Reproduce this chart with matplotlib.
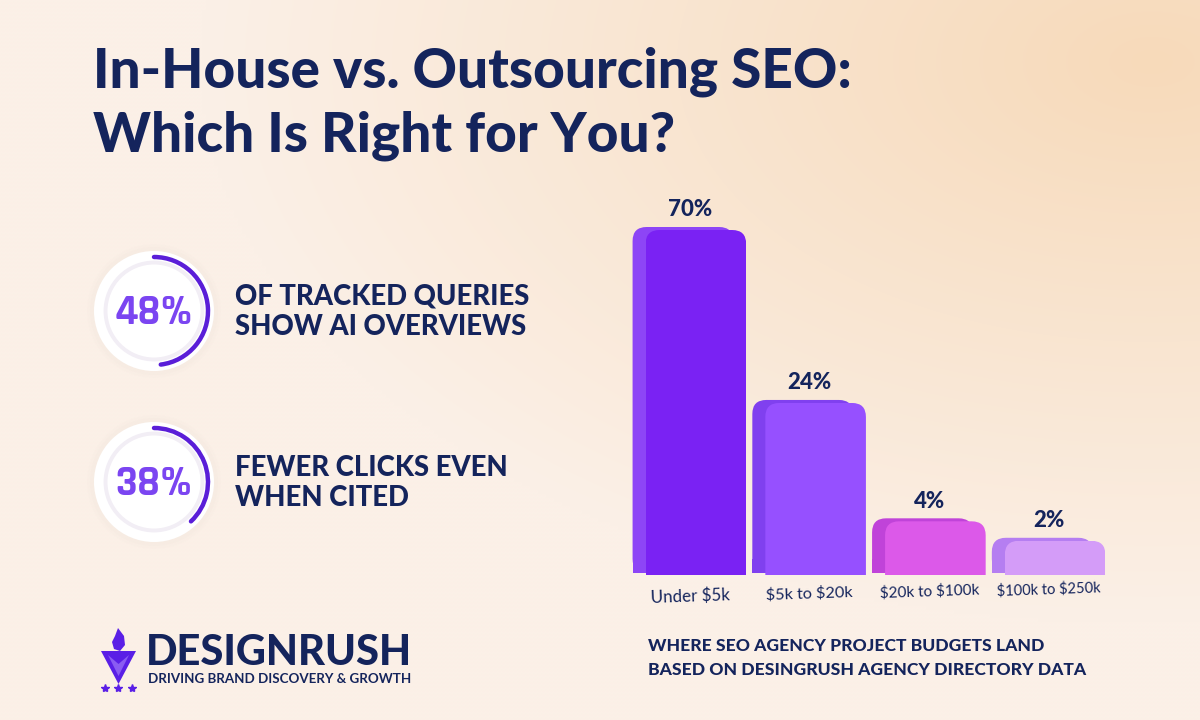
import numpy as np
import matplotlib
matplotlib.use("Agg")
import matplotlib.pyplot as plt
from matplotlib.patches import Circle, Arc, FancyBboxPatch, Polygon, Rectangle
from matplotlib.transforms import IdentityTransform, ScaledTranslation, blended_transform_factory

# ---------------- data ----------------
categories = ["Under $5k", "$5k to $20k", "$20k to $100k", "$100k to $250k"]
shares = [70, 24, 4, 2]
value_labels = ["70%", "24%", "4%", "2%"]
stat_values = ["48%", "38%"]
stat_fractions = [0.48, 0.38]
stat_texts = [["OF TRACKED QUERIES", "SHOW AI OVERVIEWS"],
              ["FEWER CLICKS EVEN", "WHEN CITED"]]
title_lines = ["In-House vs. Outsourcing SEO:", "Which Is Right for You?"]
caption_lines = ["WHERE SEO AGENCY PROJECT BUDGETS LAND",
                 "BASED ON DESINGRUSH AGENCY DIRECTORY DATA"]
brand = "DESIGNRUSH"
tagline = "DRIVING BRAND DISCOVERY & GROWTH"

# ---------------- styles ----------------
NAVY = "#14245c"
front_colors = ["#7a22f3", "#9650ff", "#dc59e9", "#d49cf8"]
side_colors = ["#8d45f6", "#8040ef", "#c043d9", "#b57ef1"]
label_sizes = [12.2, 11.7, 11.0, 10.5]

W, H = 1200, 720
fig = plt.figure(figsize=(12, 7.2), dpi=100)

# background gradient
bg = fig.add_axes([0, 0, 1, 1])
bg.set_xlim(0, W)
bg.set_ylim(H, 0)
bg.axis("off")
yy, xx = np.mgrid[0:H:4, 0:W:4]
base = np.array([251, 240, 231]) / 255.0
warm = np.array([247, 218, 186]) / 255.0
d = np.sqrt(((xx - 1150) / 950.0) ** 2 + ((yy - 60) / 560.0) ** 2)
t = np.clip(1 - d, 0, 1)
img = base[None, None, :] * (1 - t[..., None]) + warm[None, None, :] * t[..., None]
bg.imshow(img, extent=[0, W, H, 0], aspect="auto", zorder=0, interpolation="bilinear")

# title
for i, line in enumerate(title_lines):
    bg.text(93, 72 + i * 64, line, fontsize=39.5, fontweight=900, family="Lato",
            color=NAVY, va="center", ha="left", zorder=5)

# stat circles
centers = [(154, 311), (154, 482)]
for (cx, cy), val, frac, lines in zip(centers, stat_values, stat_fractions, stat_texts):
    for r, a in [(67, 0.05), (64, 0.08)]:
        bg.add_patch(Circle((cx, cy), r, facecolor="#e6d8d2", alpha=a, edgecolor="none", zorder=2))
    bg.add_patch(Circle((cx, cy), 60, facecolor="white", edgecolor="none", zorder=3))
    bg.add_patch(Circle((cx, cy), 48, facecolor="none", edgecolor="#f2eef5", lw=3.5, zorder=3))
    bg.add_patch(Circle((cx, cy), 46.5, facecolor="white", edgecolor="none", zorder=3))
    bg.add_patch(Arc((cx, cy), 108, 108, theta1=-90, theta2=-90 + 360 * frac,
                     color="#5a1ed8", lw=3.2, capstyle="round", zorder=4))
    bg.text(cx, cy + 1, val, fontsize=31, fontweight="bold",
            family=["Rajdhani", "DejaVu Sans"],
            color="#7b45f1", ha="center", va="center", zorder=5)
    for j, ln in enumerate(lines):
        bg.text(235, cy - 14 + j * 30, ln, fontsize=19.8, fontweight=900, family="Lato",
                color=NAVY, ha="left", va="center", zorder=5)

# logo
bg.add_patch(Polygon([(101, 651), (136, 651), (118.5, 684)], closed=True,
                     facecolor="#5a1fe6", edgecolor="none", zorder=5))
bg.add_patch(Polygon([(108, 655), (118.5, 664), (129, 655), (118.5, 676)], closed=True,
                     facecolor="#8a5cf2", edgecolor="none", zorder=6))
bg.add_patch(Polygon([(118, 628), (124, 636), (125, 645), (120, 651), (114, 649),
                      (112, 642), (115, 636)], closed=True,
                     facecolor="#5a1fe6", edgecolor="none", zorder=5))
bg.plot([105, 118, 132], [688, 688, 688], ls="none", marker="*", ms=6,
        color="#5a1fe6", zorder=5)
bg.text(146, 653, brand, fontsize=30, fontweight=900, family="Lato", color=NAVY,
        ha="left", va="center", zorder=5)
bg.text(148, 679, tagline, fontsize=9.6, fontweight="bold", family="Lato", color=NAVY,
        ha="left", va="center", zorder=5)

# caption
for i, ln in enumerate(caption_lines):
    bg.text(648, 646 + i * 24, ln, fontsize=12.6, fontweight=900,
            family="Lato", color=NAVY, ha="left", va="center", zorder=5)

# ---------------- bar chart ----------------
ax = fig.add_axes([636 / W, (H - 575) / H, 479 / W, 345 / H])
ax.patch.set_alpha(0)
p = 0.65
ax.set_yscale("function", functions=(lambda v: np.sign(v) * np.abs(v) ** p,
                                     lambda v: np.sign(v) * np.abs(v) ** (1 / p)))
xpos = np.arange(len(categories))
bars = ax.bar(xpos, shares, width=0.84, color=front_colors, zorder=3)
ax.set_xlim(-0.5, len(categories) - 0.5)
ax.set_ylim(0, 70)
for s in ax.spines.values():
    s.set_visible(False)
ax.set_yticks([])
ax.set_xticks(xpos)
ax.set_xticklabels([])
ax.tick_params(axis="x", length=0)

# category labels (slight perspective rise to the right)
lab_trans = blended_transform_factory(ax.transData, ax.transAxes)
for i, (xi, cat, fs) in enumerate(zip(xpos, categories, label_sizes)):
    dy = (-21 + 2.3 * i) / 100.0
    ax.text(xi - 0.05, 0, cat.replace("$", r"\$"), fontsize=fs, family="Lato", color=NAVY,
            ha="center", va="center", rotation=2, clip_on=False,
            transform=lab_trans + ScaledTranslation(0, dy, fig.dpi_scale_trans))

rad = 14
for b, sc in zip(bars, side_colors):
    x0, y0 = ax.transData.transform((b.get_x(), 0))
    x1, y1 = ax.transData.transform((b.get_x() + b.get_width(), b.get_height()))
    w, h = x1 - x0, y1 - y0
    # side face (depth) behind the front face
    side = FancyBboxPatch((x0 - 13, y0 + 2), w, h + 1,
                          boxstyle=f"round,pad=0,rounding_size={rad}",
                          transform=IdentityTransform(), facecolor=sc, edgecolor="none",
                          zorder=2, clip_on=False)
    ax.add_patch(side)
    side_sq = Rectangle((x0 - 13, y0 + 2), w, min(rad, h / 2),
                        transform=IdentityTransform(), facecolor=sc, edgecolor="none",
                        zorder=2, clip_on=False)
    ax.add_patch(side_sq)
    # rounded clip for the front face (top corners rounded)
    clip = FancyBboxPatch((x0, y0 - rad), w, h + rad,
                          boxstyle=f"round,pad=0,rounding_size={rad}",
                          transform=IdentityTransform())
    b.set_clip_path(clip)

for xi, v, lab in zip(xpos, shares, value_labels):
    ax.annotate(lab, (xi - 0.05, v), xytext=(0, 7), textcoords="offset points",
                ha="center", va="bottom", fontsize=16, fontweight=900, family="Lato",
                color=NAVY, annotation_clip=False)

fig.savefig("out.png", dpi=100)
